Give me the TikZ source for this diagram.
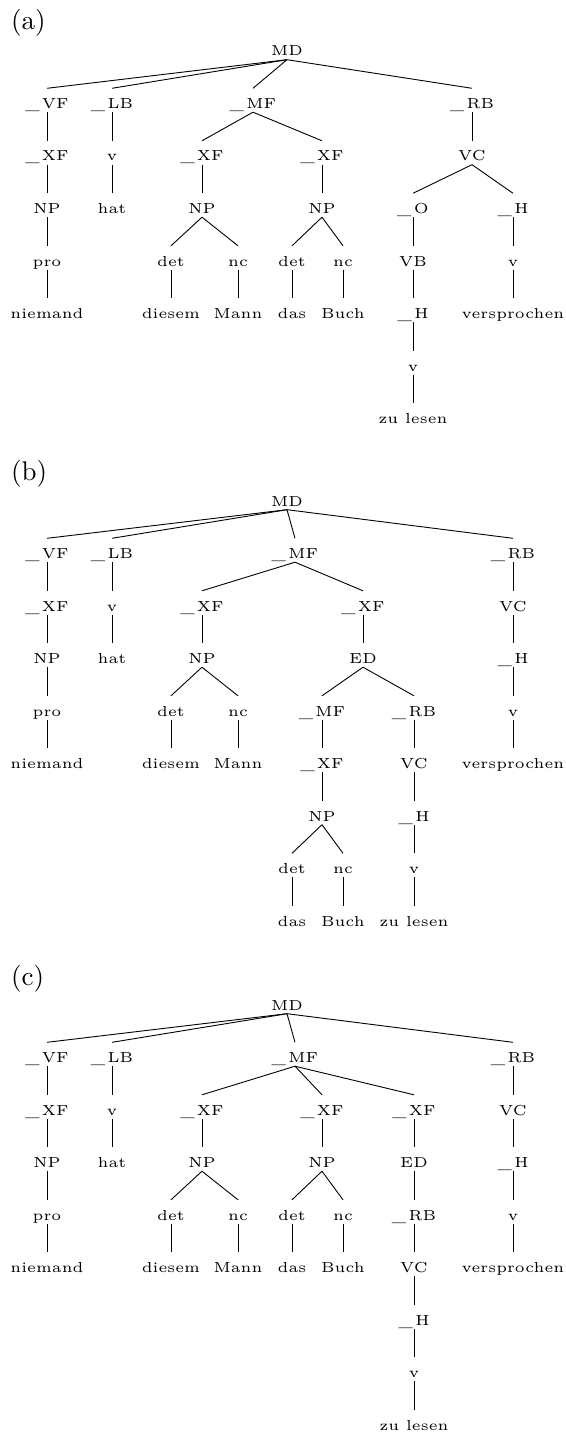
\documentclass[tikz,border=0pt]{standalone}
\usepackage{fontspec}
\newfontfamily\treefont{lmroman5-regular.otf}
\newfontfamily\labfont{lmroman10-regular.otf}
\newcommand\usc{\raisebox{-1pt}{\_}\kern2.5pt}
\tikzset{
  tn/.style={anchor=base, inner sep=0pt, text height=20pt, text depth=3.5pt,
    font=\treefont\fontsize{14.5}{17}\selectfont},
  tlink/.style={line width=0.9pt},
  plabel/.style={anchor=base west, inner sep=0pt, font=\labfont\fontsize{27}{31}\selectfont}
}
\begin{document}
\begin{tikzpicture}[x=1pt,y=-1pt]
\useasboundingbox (0,0) rectangle (565,1434);
% ================= (a)
\node[plabel] (la) at (11,30) {(a)};
\node[tn] (aMD) at (287,56) {MD};
\node[tn] (aVF) at (47,108.5) {\usc VF};
\node[tn] (aLB) at (112,108.5) {\usc LB};
\node[tn] (aMF) at (253,108.5) {\usc MF};
\node[tn] (aRB) at (472,108.5) {\usc RB};
\node[tn] (aXF1) at (47,161) {\usc XF};
\node[tn] (av1) at (112,161) {v};
\node[tn] (aXF2) at (202,161) {\usc XF};
\node[tn] (aXF3) at (322,161) {\usc XF};
\node[tn] (aVC) at (472,161) {VC};
\node[tn] (aNP1) at (47,213.5) {NP};
\node[tn] (ahat) at (112,213.5) {hat};
\node[tn] (aNP2) at (202,213.5) {NP};
\node[tn] (aNP3) at (322,213.5) {NP};
\node[tn] (aO) at (413,213.5) {\usc O};
\node[tn] (aH1) at (513,213.5) {\usc H};
\node[tn] (apro) at (47,266) {pro};
\node[tn] (adet1) at (171,266) {det};
\node[tn] (anc1) at (238,266) {nc};
\node[tn] (adet2) at (292,266) {det};
\node[tn] (anc2) at (343,266) {nc};
\node[tn] (aVB) at (413,266) {VB};
\node[tn] (av2) at (513,266) {v};
\node[tn] (aniem) at (47,318.5) {niemand};
\node[tn] (adies) at (171,318.5) {diesem};
\node[tn] (aMann) at (238,318.5) {Mann};
\node[tn] (adas) at (292,318.5) {das};
\node[tn] (aBuch) at (343,318.5) {Buch};
\node[tn] (aH2) at (413,318.5) {\usc H};
\node[tn] (avers) at (513,318.5) {versprochen};
\node[tn] (av3) at (413,371) {v};
\node[tn] (azu) at (413,423.5) {zu lesen};
\foreach \p/\c in {aMD/aVF,aMD/aLB,aMD/aMF,aMD/aRB,aVF/aXF1,aXF1/aNP1,aNP1/apro,apro/aniem,
  aLB/av1,av1/ahat,aMF/aXF2,aMF/aXF3,aXF2/aNP2,aNP2/adet1,aNP2/anc1,adet1/adies,anc1/aMann,
  aXF3/aNP3,aNP3/adet2,aNP3/anc2,adet2/adas,anc2/aBuch,aRB/aVC,aVC/aO,aVC/aH1,aO/aVB,aVB/aH2,
  aH2/av3,av3/azu,aH1/av2,av2/avers}
  \draw[tlink] (\p.south) -- (\c.north);
% ================= (b)
\node[plabel] (lb) at (11,480) {(b)};
\node[tn] (bMD) at (287,506) {MD};
\node[tn] (bVF) at (47,558.5) {\usc VF};
\node[tn] (bLB) at (112,558.5) {\usc LB};
\node[tn] (bMF) at (295,558.5) {\usc MF};
\node[tn] (bRB) at (513,558.5) {\usc RB};
\node[tn] (bXF1) at (47,611) {\usc XF};
\node[tn] (bv1) at (112,611) {v};
\node[tn] (bXF2) at (202,611) {\usc XF};
\node[tn] (bXF3) at (363,611) {\usc XF};
\node[tn] (bVC) at (513,611) {VC};
\node[tn] (bNP1) at (47,663.5) {NP};
\node[tn] (bhat) at (112,663.5) {hat};
\node[tn] (bNP2) at (202,663.5) {NP};
\node[tn] (bED) at (363,663.5) {ED};
\node[tn] (bH1) at (513,663.5) {\usc H};
\node[tn] (bpro) at (47,716) {pro};
\node[tn] (bdet1) at (171,716) {det};
\node[tn] (bnc1) at (238,716) {nc};
\node[tn] (bMF2) at (322,716) {\usc MF};
\node[tn] (bRB2) at (414,716) {\usc RB};
\node[tn] (bv2) at (513,716) {v};
\node[tn] (bniem) at (47,768.5) {niemand};
\node[tn] (bdies) at (171,768.5) {diesem};
\node[tn] (bMann) at (238,768.5) {Mann};
\node[tn] (bXF4) at (322,768.5) {\usc XF};
\node[tn] (bVC2) at (414,768.5) {VC};
\node[tn] (bvers) at (513,768.5) {versprochen};
\node[tn] (bNP3) at (322,821) {NP};
\node[tn] (bH2) at (414,821) {\usc H};
\node[tn] (bdet2) at (292,873.5) {det};
\node[tn] (bnc2) at (343,873.5) {nc};
\node[tn] (bv3) at (414,873.5) {v};
\node[tn] (bdas) at (292,926) {das};
\node[tn] (bBuch) at (343,926) {Buch};
\node[tn] (bzu) at (414,926) {zu lesen};
\foreach \p/\c in {bMD/bVF,bMD/bLB,bMD/bMF,bMD/bRB,bVF/bXF1,bXF1/bNP1,bNP1/bpro,bpro/bniem,
  bLB/bv1,bv1/bhat,bMF/bXF2,bMF/bXF3,bXF2/bNP2,bNP2/bdet1,bNP2/bnc1,bdet1/bdies,bnc1/bMann,
  bXF3/bED,bED/bMF2,bED/bRB2,bMF2/bXF4,bXF4/bNP3,bNP3/bdet2,bNP3/bnc2,bdet2/bdas,bnc2/bBuch,
  bRB2/bVC2,bVC2/bH2,bH2/bv3,bv3/bzu,bRB/bVC,bVC/bH1,bH1/bv2,bv2/bvers}
  \draw[tlink] (\p.south) -- (\c.north);
% ================= (c)
\node[plabel] (lc) at (11,985) {(c)};
\node[tn] (cMD) at (287,1010) {MD};
\node[tn] (cVF) at (47,1062.5) {\usc VF};
\node[tn] (cLB) at (112,1062.5) {\usc LB};
\node[tn] (cMF) at (295,1062.5) {\usc MF};
\node[tn] (cRB) at (513,1062.5) {\usc RB};
\node[tn] (cXF1) at (47,1115) {\usc XF};
\node[tn] (cv1) at (112,1115) {v};
\node[tn] (cXF2) at (202,1115) {\usc XF};
\node[tn] (cXF3) at (322,1115) {\usc XF};
\node[tn] (cXF4) at (414,1115) {\usc XF};
\node[tn] (cVC) at (513,1115) {VC};
\node[tn] (cNP1) at (47,1167.5) {NP};
\node[tn] (chat) at (112,1167.5) {hat};
\node[tn] (cNP2) at (202,1167.5) {NP};
\node[tn] (cNP3) at (322,1167.5) {NP};
\node[tn] (cED) at (414,1167.5) {ED};
\node[tn] (cH1) at (513,1167.5) {\usc H};
\node[tn] (cpro) at (47,1220) {pro};
\node[tn] (cdet1) at (171,1220) {det};
\node[tn] (cnc1) at (238,1220) {nc};
\node[tn] (cdet2) at (292,1220) {det};
\node[tn] (cnc2) at (343,1220) {nc};
\node[tn] (cRB2) at (414,1220) {\usc RB};
\node[tn] (cv2) at (513,1220) {v};
\node[tn] (cniem) at (47,1272.5) {niemand};
\node[tn] (cdies) at (171,1272.5) {diesem};
\node[tn] (cMann) at (238,1272.5) {Mann};
\node[tn] (cdas) at (292,1272.5) {das};
\node[tn] (cBuch) at (343,1272.5) {Buch};
\node[tn] (cVC2) at (414,1272.5) {VC};
\node[tn] (cvers) at (513,1272.5) {versprochen};
\node[tn] (cH2) at (414,1325) {\usc H};
\node[tn] (cv3) at (414,1377.5) {v};
\node[tn] (czu) at (414,1430) {zu lesen};
\foreach \p/\c in {cMD/cVF,cMD/cLB,cMD/cMF,cMD/cRB,cVF/cXF1,cXF1/cNP1,cNP1/cpro,cpro/cniem,
  cLB/cv1,cv1/chat,cMF/cXF2,cMF/cXF3,cMF/cXF4,cXF2/cNP2,cNP2/cdet1,cNP2/cnc1,cdet1/cdies,cnc1/cMann,
  cXF3/cNP3,cNP3/cdet2,cNP3/cnc2,cdet2/cdas,cnc2/cBuch,cXF4/cED,cED/cRB2,cRB2/cVC2,cVC2/cH2,
  cH2/cv3,cv3/czu,cRB/cVC,cVC/cH1,cH1/cv2,cv2/cvers}
  \draw[tlink] (\p.south) -- (\c.north);
\end{tikzpicture}
\end{document}
